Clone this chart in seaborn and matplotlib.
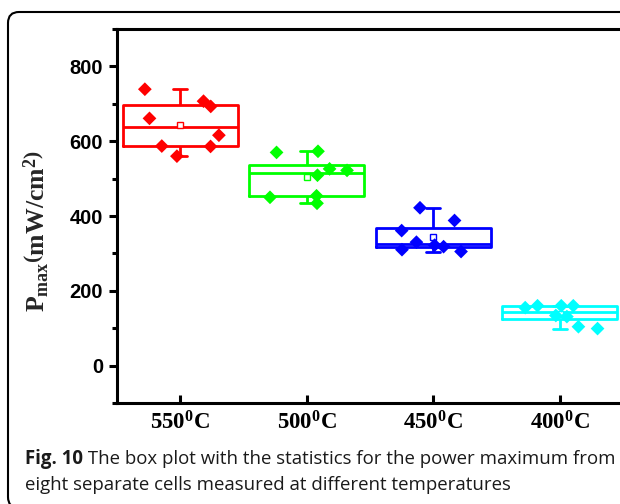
import numpy as np
import pandas as pd
import matplotlib
matplotlib.use("Agg")
import matplotlib.pyplot as plt
import seaborn as sns
from matplotlib.patches import FancyBboxPatch
from matplotlib.transforms import IdentityTransform
from matplotlib.ticker import MultipleLocator

# ---------------- data ----------------
categories = ["550", "500", "450", "400"]
tick_labels = [r"550$^{\mathbf{0}}$C", r"500$^{\mathbf{0}}$C",
               r"450$^{\mathbf{0}}$C", r"400$^{\mathbf{0}}$C"]
pmax_550 = [693, 739, 661, 707, 616, 587, 586, 560]
pmax_500 = [573, 526, 509, 570, 522, 434, 450, 454]
pmax_450 = [422, 388, 361, 322, 318, 305, 310, 330]
pmax_400 = [155, 160, 160, 160, 131, 134, 104, 99]
colors = ["#ff0000", "#00ff00", "#0000ff", "#00ffff"]
caption_bold = "Fig. 10"
caption_line1 = " The box plot with the statistics for the power maximum from"
caption_line2 = "eight separate cells measured at different temperatures"

groups = [pmax_550, pmax_500, pmax_450, pmax_400]
df = pd.DataFrame({
    "temp": np.repeat(categories, 8),
    "pmax": np.concatenate(groups),
})

# ---------------- style ----------------
sns.set_style("ticks")
plt.rcParams["font.family"] = ["Liberation Sans", "DejaVu Sans"]
plt.rcParams["mathtext.fontset"] = "custom"
plt.rcParams["mathtext.rm"] = "Liberation Serif:bold"
plt.rcParams["mathtext.bf"] = "Liberation Serif:bold"
plt.rcParams["mathtext.it"] = "Liberation Serif:bold"

W, H = 620, 504
jit = 0.32
strip_kws = dict(data=df, x="temp", y="pmax", hue="temp", order=categories,
                 hue_order=categories, palette=colors, marker="D", size=7,
                 jitter=jit, linewidth=0, legend=False)

# ---- choose a jitter seed giving well separated, balanced diamonds ----
px_x, px_y = 126.5, 0.375
scratch_fig, scratch_ax = plt.subplots()


def spread_score(seed):
    scratch_ax.cla()
    np.random.seed(seed)
    sns.stripplot(ax=scratch_ax, **strip_kws)
    pts = np.vstack([c.get_offsets() for c in scratch_ax.collections])
    worst = np.inf
    worst_range = np.inf
    worst_bias = 0.0
    for k in range(len(categories)):
        p = pts[np.round(pts[:, 0]) == k]
        if len(p) < 2:
            continue
        xo = (p[:, 0] - k) * px_x
        yo = p[:, 1] * px_y
        d = np.hypot(xo[:, None] - xo[None, :], yo[:, None] - yo[None, :])
        d[np.diag_indices(len(p))] = np.inf
        worst = min(worst, d.min())
        worst_range = min(worst_range, xo.max() - xo.min())
        worst_bias = max(worst_bias, abs(xo.mean()))
    return min(worst, 16) + 0.15 * worst_range - 0.4 * worst_bias


best_seed = max(range(300), key=spread_score)
plt.close(scratch_fig)

# ---------------- figure ----------------
fig = plt.figure(figsize=(W / 100, H / 100), dpi=100)
ax = fig.add_axes([117 / W, 1 - 403 / H, (623 - 117) / W, (403 - 29) / H])

box_width = 0.91
sns.boxplot(data=df, x="temp", y="pmax", hue="temp", order=categories,
            hue_order=categories, palette=colors, fill=False, width=box_width,
            whis=(0, 100), linewidth=2, showfliers=False, showmeans=True,
            meanprops=dict(marker="s", markersize=4.5, markerfacecolor="white",
                           markeredgewidth=1.0),
            legend=False, ax=ax)

# colour mean markers like their box, and make whisker caps short
cap_half = 0.055
for ln in ax.lines:
    xd = np.asarray(ln.get_xdata(), dtype=float)
    yd = np.asarray(ln.get_ydata(), dtype=float)
    if len(xd) == 0:
        continue
    if ln.get_marker() == "s":
        idx = int(round(xd[0]))
        if 0 <= idx < len(colors):
            ln.set_markeredgecolor(colors[idx])
            ln.set_markerfacecolor("white")
        continue
    if len(xd) == 2 and yd[0] == yd[1]:
        span = abs(xd[1] - xd[0])
        if 0 < span < 0.7 * box_width:
            c = 0.5 * (xd[0] + xd[1])
            ln.set_xdata([c - cap_half, c + cap_half])

np.random.seed(best_seed)
sns.stripplot(ax=ax, zorder=4, **strip_kws)

ax.set_xlim(-0.5, 3.5)
ax.set_ylim(-100, 900)
ax.yaxis.set_major_locator(MultipleLocator(200))
ax.yaxis.set_minor_locator(MultipleLocator(100))
ax.set_xticks(range(len(categories)))
ax.set_xticklabels(tick_labels, fontfamily="Liberation Serif",
                   fontweight="bold", fontsize=16.5)
ax.set_xlabel("")
ax.set_ylabel("")
for lab in ax.get_yticklabels():
    lab.set_fontweight("bold")
    lab.set_fontsize(14.5)

for sp in ax.spines.values():
    sp.set_linewidth(2.2)
    sp.set_color("black")
ax.tick_params(axis="x", direction="in", length=6, width=2.2, pad=6,
               colors="black")
ax.tick_params(axis="y", which="major", direction="out", length=6,
               width=2.2, pad=4, colors="black")
ax.tick_params(axis="y", which="minor", direction="out", length=3.3,
               width=2.2, colors="black")
ax.grid(False)

fig.text(37 / W, 1 - 231 / H, r"$\mathbf{P_{max}\left(mW/cm^{2}\right)}$",
         rotation=90, ha="center", va="center", fontsize=18.5)

# rounded outer frame
frame = FancyBboxPatch((8, -4), 660, 496,
                       boxstyle="round,pad=0,rounding_size=11",
                       transform=IdentityTransform(), fill=False,
                       lw=1.5, ec="black")
fig.add_artist(frame)

# caption, fitted to the target width
fs = 13
t_b = fig.text(25 / W, 1 - 464 / H, caption_bold, fontfamily="Open Sans",
               fontweight="bold", fontsize=fs, va="baseline", color="#1a1a1a")
t_1 = fig.text(0, 1 - 464 / H, caption_line1, fontfamily="Open Sans",
               fontsize=fs, va="baseline", color="#1a1a1a")
t_2 = fig.text(25 / W, 1 - 490 / H, caption_line2, fontfamily="Open Sans",
               fontsize=fs, va="baseline", color="#1a1a1a")
r = fig.canvas.get_renderer()
wb = t_b.get_window_extent(r).width
w1 = t_1.get_window_extent(r).width
scale = 587 / (wb + w1)
fs2 = fs * scale
for t in (t_b, t_1, t_2):
    t.set_fontsize(fs2)
wb = t_b.get_window_extent(r).width
t_1.set_x((25 + wb) / W)

fig.savefig("out.png", dpi=100)
